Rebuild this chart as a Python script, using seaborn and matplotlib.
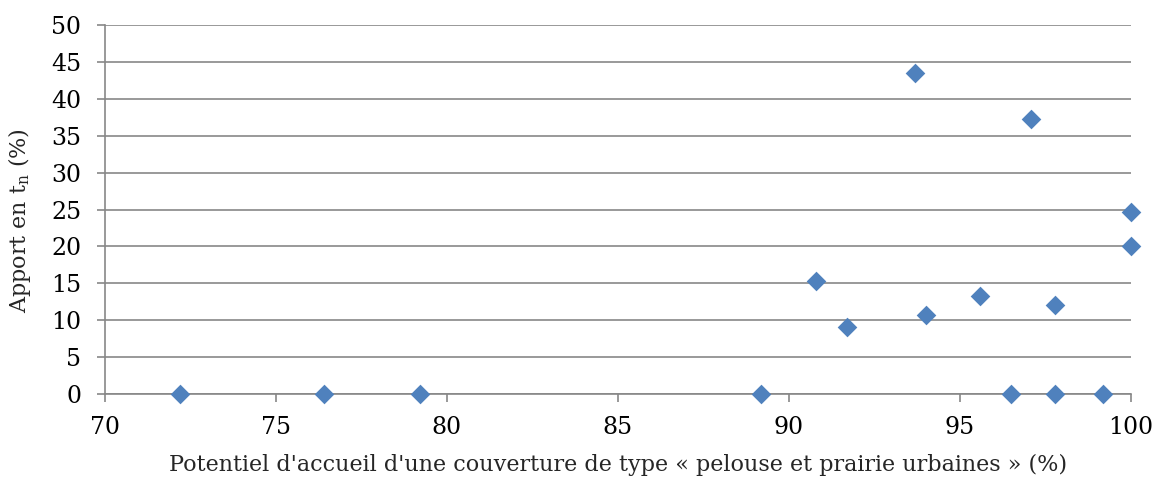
import matplotlib
matplotlib.use("Agg")
import matplotlib.pyplot as plt
import pandas as pd
import seaborn as sns

# values
potentiel = [72.2, 76.4, 79.2, 89.2, 90.8, 91.7, 93.7, 94.0, 95.6,
             96.5, 97.1, 97.8, 97.8, 99.2, 100.0, 100.0]
apport = [0, 0, 0, 0, 15.3, 9.1, 43.5, 10.7, 13.3,
          0, 37.2, 12.1, 0, 0, 24.7, 20.0]

x_ticks = [70, 75, 80, 85, 90, 95, 100]
y_ticks = [0, 5, 10, 15, 20, 25, 30, 35, 40, 45, 50]

df = pd.DataFrame({"potentiel": potentiel, "apport": apport})

sns.set_style("white")
plt.rcParams["font.family"] = ["DejaVu Serif"]
plt.rcParams["mathtext.fontset"] = "dejavuserif"

grid_col = "#878787"

fig = plt.figure(figsize=(11.55, 4.8), dpi=100)
ax = fig.add_axes([0.0909, 0.179, 0.888, 0.769])

sns.scatterplot(data=df, x="potentiel", y="apport", ax=ax, marker="D",
                s=100, color="#4F81BD", linewidth=0, zorder=3, clip_on=False)

ax.set_xlim(70, 100)
ax.set_ylim(0, 50)
ax.set_xticks(x_ticks)
ax.set_yticks(y_ticks)
ax.yaxis.grid(True, color=grid_col, linewidth=1.2)
ax.set_axisbelow(True)

for side in ["top", "right"]:
    ax.spines[side].set_visible(False)
for side in ["left", "bottom"]:
    ax.spines[side].set_color(grid_col)
    ax.spines[side].set_linewidth(1.2)
    ax.spines[side].set_zorder(1)

ax.tick_params(axis="both", direction="out", length=6, width=1.2,
               color=grid_col, labelsize=17, labelcolor="black",
               bottom=True, left=True)
ax.tick_params(axis="y", pad=11)
ax.tick_params(axis="x", pad=10)

ax.set_xlabel("Potentiel d'accueil d'une couverture de type « pelouse et prairie urbaines » (%)",
              fontsize=16)
ax.set_ylabel(r"Apport en t$_\mathregular{n}$ (%)", fontsize=16)
ax.xaxis.set_label_coords(0.5, -0.162)
ax.yaxis.set_label_coords(-0.07, 0.47)

fig.savefig("out.png", dpi=100)
